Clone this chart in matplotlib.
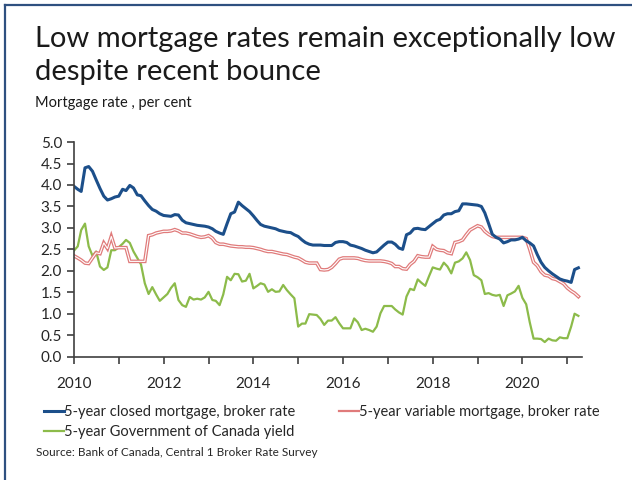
import matplotlib
matplotlib.use("Agg")
import matplotlib.pyplot as plt
import matplotlib.dates as mdates
import pandas as pd
from matplotlib.lines import Line2D

plt.rcParams["font.family"] = ["Lato", "DejaVu Sans"]

# Monthly data, Jan 2010 - Apr 2021 (per cent)
closed_rate = [
    3.97, 3.9, 3.85, 4.4, 4.43, 4.32, 4.12, 3.92, 3.74, 3.65, 3.68, 3.72,
    3.74, 3.9, 3.87, 3.99, 3.93, 3.77, 3.75, 3.63, 3.52, 3.43, 3.39, 3.33,
    3.29, 3.28, 3.27, 3.31, 3.3, 3.18, 3.12, 3.1, 3.08, 3.06, 3.05, 3.04,
    3.02, 2.98, 2.92, 2.88, 2.85, 3.1, 3.33, 3.37, 3.6, 3.52, 3.45, 3.38,
    3.28, 3.17, 3.08, 3.04, 3.02, 3.0, 2.98, 2.94, 2.92, 2.9, 2.89, 2.84,
    2.8, 2.72, 2.66, 2.62, 2.6, 2.6, 2.6, 2.59, 2.59, 2.59, 2.66, 2.68,
    2.68, 2.66, 2.6, 2.58, 2.55, 2.52, 2.48, 2.45, 2.42, 2.44, 2.52, 2.6,
    2.67, 2.67, 2.62, 2.53, 2.5, 2.84, 2.88, 2.98, 2.99, 2.97, 2.96, 3.03,
    3.1, 3.17, 3.2, 3.3, 3.33, 3.33, 3.38, 3.4, 3.56, 3.56, 3.55, 3.54,
    3.53, 3.5, 3.35, 3.1, 2.85, 2.78, 2.74, 2.65, 2.68, 2.72, 2.72, 2.74,
    2.78, 2.7, 2.65, 2.58, 2.38, 2.2, 2.08, 2.0, 1.93, 1.87, 1.81, 1.78,
    1.76, 1.73, 2.03, 2.07,
]
variable_rate = [
    2.35, 2.3, 2.25, 2.18, 2.17, 2.3, 2.42, 2.4, 2.65, 2.52, 2.8, 2.53,
    2.54, 2.54, 2.54, 2.22, 2.22, 2.22, 2.22, 2.22, 2.82, 2.84, 2.88, 2.9,
    2.92, 2.92, 2.93, 2.96, 2.93, 2.88, 2.88, 2.86, 2.83, 2.8, 2.78, 2.79,
    2.82, 2.76, 2.66, 2.62, 2.62, 2.6, 2.58, 2.57, 2.56, 2.56, 2.55, 2.55,
    2.54, 2.52, 2.5, 2.47, 2.45, 2.45, 2.43, 2.41, 2.39, 2.38, 2.35, 2.32,
    2.3, 2.25, 2.2, 2.18, 2.18, 2.18, 2.03, 2.02, 2.03, 2.08, 2.17, 2.27,
    2.3, 2.3, 2.3, 2.3, 2.29, 2.26, 2.24, 2.23, 2.23, 2.23, 2.23, 2.22,
    2.2, 2.17, 2.1, 2.1, 2.05, 2.04, 2.15, 2.22, 2.35, 2.33, 2.32, 2.32,
    2.57, 2.5, 2.48, 2.47, 2.42, 2.4, 2.66, 2.68, 2.72, 2.84, 2.95, 3.0,
    3.05, 3.02, 2.92, 2.85, 2.8, 2.78, 2.78, 2.78, 2.78, 2.78, 2.78, 2.78,
    2.78, 2.75, 2.5, 2.2, 2.12, 1.98, 1.9, 1.88, 1.82, 1.8, 1.75, 1.7,
    1.6, 1.53, 1.48, 1.4,
]
goc_yield = [
    2.47, 2.57, 2.95, 3.1, 2.57, 2.35, 2.45, 2.1, 2.02, 2.08, 2.48, 2.48,
    2.55, 2.63, 2.72, 2.65, 2.45, 2.3, 2.15, 1.71, 1.46, 1.62, 1.45, 1.3,
    1.38, 1.46, 1.6, 1.71, 1.32, 1.2, 1.16, 1.39, 1.33, 1.35, 1.33, 1.38,
    1.51, 1.32, 1.3, 1.2, 1.45, 1.86, 1.78, 1.93, 1.92, 1.75, 1.77, 1.93,
    1.59, 1.65, 1.71, 1.68, 1.51, 1.57, 1.51, 1.52, 1.67, 1.55, 1.45, 1.36,
    0.7, 0.77, 0.77, 0.99, 0.98, 0.97, 0.88, 0.74, 0.84, 0.84, 0.92, 0.78,
    0.66, 0.66, 0.66, 0.89, 0.8, 0.62, 0.65, 0.62, 0.58, 0.7, 1.01, 1.18,
    1.18, 1.18, 1.1, 1.03, 0.98, 1.4, 1.58, 1.55, 1.8, 1.72, 1.65, 1.87,
    2.08, 2.05, 2.03, 2.19, 2.1, 1.94, 2.19, 2.22, 2.29, 2.43, 2.25, 1.9,
    1.85, 1.78, 1.46, 1.48, 1.44, 1.42, 1.44, 1.18, 1.43, 1.47, 1.52, 1.65,
    1.37, 1.22, 0.8, 0.42, 0.42, 0.41, 0.34, 0.42, 0.38, 0.37, 0.45, 0.43,
    0.43, 0.7, 1.0, 0.95,
]
dates = pd.date_range("2010-01-01", periods=len(closed_rate), freq="MS")

labels = [
    "5-year closed mortgage, broker rate",
    "5-year variable mortgage, broker rate",
    "5-year Government of Canada yield",
]

BLUE = "#1c4f8a"
RED = "#e07b7b"
GREEN = "#8cbb4a"

fig = plt.figure(figsize=(6.32, 4.8), dpi=100)
ax = fig.add_axes([0.117, 0.257, 0.804, 0.447])

ax.plot(dates, goc_yield, color=GREEN, lw=1.6)
ax.plot(dates, variable_rate, color=RED, lw=2.6, solid_joinstyle="miter")
ax.plot(dates, variable_rate, color="white", lw=0.8)
ax.plot(dates, closed_rate, color=BLUE, lw=2.2)

ax.set_ylim(0, 5)
ax.set_yticks([0, 0.5, 1, 1.5, 2, 2.5, 3, 3.5, 4, 4.5, 5])
ax.yaxis.set_major_formatter(matplotlib.ticker.FormatStrFormatter("%.1f"))
ax.set_xlim(pd.Timestamp("2010-01-01"), pd.Timestamp("2021-05-01"))
ax.xaxis.set_major_locator(mdates.YearLocator(1))
ax.xaxis.set_major_formatter(
    matplotlib.ticker.FuncFormatter(
        lambda v, p: mdates.num2date(v).strftime("%Y") if mdates.num2date(v).year % 2 == 0 else ""
    )
)

for s in ["top", "right"]:
    ax.spines[s].set_visible(False)
for s in ["left", "bottom"]:
    ax.spines[s].set_color("#404040")
    ax.spines[s].set_linewidth(1.2)
ax.tick_params(direction="out", length=5, width=1.2, color="#404040",
               labelsize=11, labelcolor="#262626")
ax.tick_params(axis="x", pad=10)

# Legend: row 1 closed + variable, row 2 GoC yield (column-major fill)
handles = [
    Line2D([], [], color=BLUE, lw=2.2),
    Line2D([], [], color=RED, lw=1.6),
    Line2D([], [], color=GREEN, lw=1.6),
]
fig.legend([handles[0], handles[2], handles[1]], [labels[0], labels[2], labels[1]],
           loc="upper left", bbox_to_anchor=(0.058, 0.172), ncol=2,
           frameon=False, fontsize=10.5, handlelength=1.4, handletextpad=0.0,
           columnspacing=2.95, labelspacing=0.42, borderpad=0, labelcolor="#262626")

# Titles and source
fig.text(0.055, 0.945, "Low mortgage rates remain exceptionally low\ndespite recent bounce",
         fontsize=21, va="top", ha="left", color="#1a1a1a", linespacing=1.32)
fig.text(0.055, 0.785, "Mortgage rate , per cent", fontsize=10.5, va="center",
         ha="left", color="#1a1a1a")
fig.text(0.057, 0.058, "Source: Bank of Canada, Central 1 Broker Rate Survey",
         fontsize=8.5, va="center", ha="left", color="#262626")

# Frame lines on top and left edge
fig.add_artist(Line2D([0.008, 1.0], [0.99, 0.99], color="#2f5080", lw=1.6,
                      transform=fig.transFigure))
fig.add_artist(Line2D([0.008, 0.008], [0.0, 0.99], color="#2f5080", lw=1.6,
                      transform=fig.transFigure))

fig.savefig("out.png", dpi=100)
